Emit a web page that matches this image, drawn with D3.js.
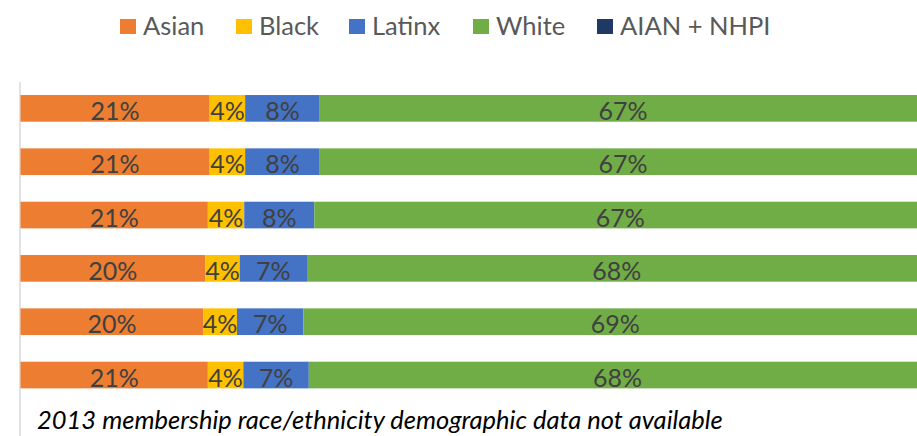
<!DOCTYPE html>
<html>
<head>
<meta charset="utf-8">
<script src="https://cdn.jsdelivr.net/npm/d3@7"></script>
<style>
  html, body { margin: 0; padding: 0; background: #fff; overflow: hidden; }
  svg { display: block; }
</style>
</head>
<body>
<svg id="chart" width="917" height="436"></svg>
<script>
// ---- data ----
const categories = ["2019", "2018", "2017", "2016", "2015", "2014"];
const seriesNames = ["Asian", "Black", "Latinx", "White", "AIAN + NHPI"];
const asian  = [20.8, 20.8, 20.6, 20.3, 20.1, 20.6];
const black  = [3.9, 3.9, 4.0, 3.8, 3.7, 3.9];
const latinx = [8.2, 8.2, 7.7, 7.4, 7.3, 7.2];
const white  = [66.7, 66.7, 67.3, 68.1, 68.6, 67.9];
const aianNhpi = [0.4, 0.4, 0.4, 0.4, 0.3, 0.4];
const colors = ["#ED7D31", "#FFC000", "#4472C4", "#70AD47", "#1F3864"];
const note = "2013 membership race/ethnicity demographic data not available";

const seriesValues = [asian, black, latinx, white, aianNhpi];
const rows = categories.map((c, i) => {
  const r = { category: c };
  seriesNames.forEach((s, j) => r[s] = seriesValues[j][i]);
  return r;
});

const svg = d3.select("#chart");

const x = d3.scaleLinear().domain([0, 100]).range([20.5, 930]);
const y = d3.scaleBand().domain(categories).range([81.7, 401.7])
  .paddingInner(0.5).paddingOuter(0.25);
const color = d3.scaleOrdinal().domain(seriesNames).range(colors);

const stack = d3.stack().keys(seriesNames)(rows);

// axis line (category axis, labels cropped)
svg.append("line")
  .attr("x1", 20).attr("x2", 20).attr("y1", 82).attr("y2", 436)
  .attr("stroke", "#d9d9d9").attr("stroke-width", 1.5);

const layers = svg.append("g").selectAll("g").data(stack).join("g")
  .attr("fill", d => color(d.key));

layers.selectAll("rect").data(d => d).join("rect")
  .attr("x", d => x(d[0]))
  .attr("width", d => x(d[1]) - x(d[0]))
  .attr("y", d => y(d.data.category))
  .attr("height", y.bandwidth());

const labels = svg.append("g");
stack.forEach(layer => {
  labels.selectAll(null).data(layer.filter(d => d[1] - d[0] >= 1)).join("text")
    .attr("x", d => (x(d[0]) + x(d[1])) / 2)
    .attr("y", d => y(d.data.category) + y.bandwidth() / 2 + 1.5)
    .attr("dominant-baseline", "central")
    .attr("text-anchor", "middle")
    .attr("font-family", "Lato, 'Open Sans', sans-serif")
    .attr("font-size", 25)
    .attr("fill", "#404040")
    .text(d => Math.round(d[1] - d[0]) + "%");
});

// legend
const legendX = [120, 236, 349, 473, 597];
const legend = svg.append("g");
seriesNames.forEach((s, i) => {
  const g = legend.append("g").attr("transform", `translate(${legendX[i]},0)`);
  g.append("rect").attr("x", 0).attr("y", 19).attr("width", 16).attr("height", 15)
    .attr("fill", color(s));
  g.append("text").attr("x", 23).attr("y", 35)
    .attr("font-family", "Lato, 'Open Sans', sans-serif")
    .attr("font-size", 25.5)
    .attr("fill", "#595959")
    .text(s);
});

// note
svg.append("text")
  .attr("x", 37).attr("y", 429)
  .attr("font-family", "Lato, 'Open Sans', sans-serif")
  .attr("font-style", "italic")
  .attr("font-size", 25.5)
  .attr("fill", "#000")
  .text(note);
</script>
</body>
</html>
